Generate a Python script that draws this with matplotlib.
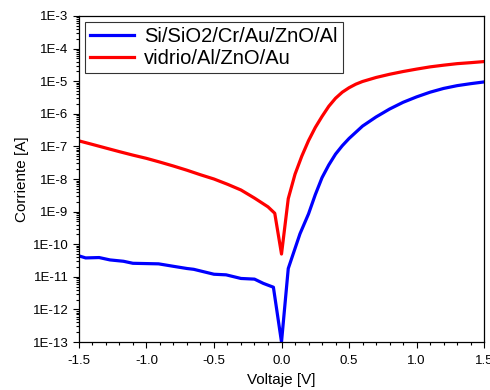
import numpy as np
import matplotlib
matplotlib.use("Agg")
import matplotlib.pyplot as plt
from matplotlib.ticker import LogLocator, FuncFormatter, MultipleLocator, NullFormatter

plt.rcParams['font.family'] = ['Liberation Sans', 'DejaVu Sans']

# Si/SiO2/Cr/Au/ZnO/Al
v_blue = [-1.5, -1.45, -1.35, -1.27, -1.17, -1.1, -0.91, -0.8, -0.7, -0.65, -0.5, -0.41,
          -0.3, -0.2, -0.135, -0.06, 0.0, 0.05, 0.137, 0.2, 0.25, 0.3, 0.35, 0.4, 0.45,
          0.5, 0.6, 0.7, 0.8, 0.9, 1.0, 1.1, 1.2, 1.3, 1.4, 1.5]
i_blue = [4.4e-11, 3.8e-11, 3.9e-11, 3.3e-11, 3.0e-11, 2.6e-11, 2.5e-11, 2.1e-11, 1.8e-11,
          1.7e-11, 1.2e-11, 1.15e-11, 8.9e-12, 8.5e-12, 6.3e-12, 4.8e-12, 1.0e-13, 1.8e-11,
          2.1e-10, 8.5e-10, 3.3e-9, 1.1e-8, 2.7e-8, 5.8e-8, 1.05e-7, 1.75e-7, 4.2e-7, 8.0e-7,
          1.4e-6, 2.25e-6, 3.3e-6, 4.6e-6, 6.0e-6, 7.3e-6, 8.4e-6, 9.5e-6]

# vidrio/Al/ZnO/Au
v_red = [-1.5, -1.4, -1.3, -1.2, -1.1, -1.0, -0.9, -0.8, -0.7, -0.6, -0.5, -0.4, -0.3, -0.2,
         -0.1, -0.05, 0.0, 0.05, 0.1, 0.15, 0.2, 0.25, 0.3, 0.35, 0.4, 0.45, 0.5, 0.55, 0.6,
         0.7, 0.8, 0.9, 1.0, 1.1, 1.2, 1.3, 1.4, 1.5]
i_red = [1.48e-7, 1.15e-7, 8.9e-8, 6.9e-8, 5.4e-8, 4.3e-8, 3.3e-8, 2.5e-8, 1.86e-8, 1.35e-8,
         1.0e-8, 6.9e-9, 4.6e-9, 2.6e-9, 1.4e-9, 8.9e-10, 5.0e-11, 2.5e-9, 1.4e-8, 5.0e-8,
         1.5e-7, 3.8e-7, 8.3e-7, 1.7e-6, 3.0e-6, 4.6e-6, 6.3e-6, 8.1e-6, 9.8e-6, 1.3e-5,
         1.63e-5, 1.98e-5, 2.35e-5, 2.75e-5, 3.1e-5, 3.45e-5, 3.7e-5, 4.0e-5]

fig = plt.figure(figsize=(4.9, 3.9), dpi=100)
ax = fig.add_axes([0.161, 0.123, 0.827, 0.836])

ax.plot(v_blue, i_blue, color='#0000ff', lw=2.3, label='Si/SiO2/Cr/Au/ZnO/Al')
ax.plot(v_red, i_red, color='#ff0000', lw=2.3, label='vidrio/Al/ZnO/Au')

ax.set_yscale('log')
ax.set_xlim(-1.5, 1.5)
ax.set_ylim(1e-13, 1e-3)

ax.xaxis.set_major_locator(MultipleLocator(0.5))
ax.xaxis.set_minor_locator(MultipleLocator(0.1))
ax.xaxis.set_major_formatter(FuncFormatter(lambda v, p: f"{v:.1f}"))
ax.yaxis.set_major_locator(LogLocator(base=10, numticks=20))
ax.yaxis.set_minor_locator(LogLocator(base=10, subs=np.arange(2, 10), numticks=20))
ax.yaxis.set_minor_formatter(NullFormatter())
ax.yaxis.set_major_formatter(FuncFormatter(lambda v, p: f"1E{int(round(np.log10(v)))}"))

ax.tick_params(which='both', direction='out', top=False, right=False, labelsize=9.5, width=0.8)
ax.tick_params(which='major', length=4)
ax.tick_params(which='minor', length=2.2)
ax.tick_params(axis='x', which='major', pad=5)
for s in ax.spines.values():
    s.set_linewidth(0.9)

ax.set_xlabel('Voltaje [V]', fontsize=11, labelpad=5)
ax.set_ylabel('Corriente [A]', fontsize=11, labelpad=3)

leg = ax.legend(loc='upper left', fontsize=14.5, frameon=True, fancybox=False,
                handlelength=2.2, borderpad=0.25, labelspacing=0.15,
                borderaxespad=0.3, handletextpad=0.5)
leg.get_frame().set_edgecolor('black')
leg.get_frame().set_linewidth(0.8)

fig.savefig('out.png', dpi=100)
